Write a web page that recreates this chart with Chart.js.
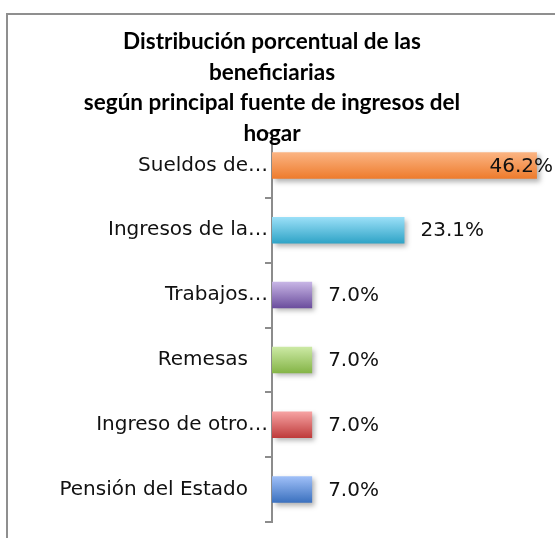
<!DOCTYPE html>
<html>
<head>
<meta charset="utf-8">
<script src="https://cdn.jsdelivr.net/npm/chart.js@4.4.1/dist/chart.umd.min.js"></script>
<style>
  html, body { margin: 0; padding: 0; background: #fff; overflow: hidden; }
  #frame { position: absolute; left: 6px; top: 13px; width: 620px; height: 620px; border: 2px solid #8f8f8f; }
  #wrap { position: absolute; left: 0; top: 0; width: 555px; height: 538px; }
</style>
</head>
<body>
<div id="frame"></div>
<div id="wrap"><canvas id="chart" width="555" height="538"></canvas></div>
<script>
// chart data
const titleLines = [
  "Distribución porcentual de las",
  "beneficiarias",
  "según principal fuente de ingresos del",
  "hogar"
];
const categories = ["Sueldos de…", "Ingresos de la…", "Trabajos…", "Remesas", "Ingreso de otro…", "Pensión del Estado"];
const values = [46.2, 23.1, 7.0, 7.0, 7.0, 7.0];

// bar gradient colours (top -> bottom)
const topColors = ["#fbb584", "#9ce0f8", "#c8b6e6", "#cdeaa6", "#f7a4a4", "#a0c0f8"];
const bottomColors = ["#ee7b2c", "#2ea3c6", "#6a4c9c", "#84b446", "#be3a3a", "#3a70be"];

const axisGray = "#8c8c8c";

// gradients + drop shadow for the bars
const barStyle = {
  id: "barStyle",
  beforeDatasetsDraw(chart) {
    const ctx = chart.ctx;
    chart.getDatasetMeta(0).data.forEach((el, i) => {
      const top = el.y - el.height / 2;
      const g = ctx.createLinearGradient(0, top, 0, top + el.height);
      g.addColorStop(0, topColors[i]);
      g.addColorStop(1, bottomColors[i]);
      el.options.backgroundColor = g;
    });
    ctx.save();
    ctx.shadowColor = "rgba(0,0,0,0.3)";
    ctx.shadowBlur = 5;
    ctx.shadowOffsetX = 3;
    ctx.shadowOffsetY = 3;
  },
  afterDatasetsDraw(chart) {
    chart.ctx.restore();
  }
};

// title lines and value labels
const textLayer = {
  id: "textLayer",
  afterDraw(chart) {
    const ctx = chart.ctx;
    ctx.save();
    ctx.fillStyle = "#000";
    ctx.font = "bold 22.5px Lato";
    ctx.textAlign = "center";
    ctx.textBaseline = "middle";
    titleLines.forEach((line, i) => {
      ctx.fillText(line, 272, 42 + i * 30.5);
    });

    ctx.font = "20px 'DejaVu Sans'";
    ctx.textAlign = "left";
    ctx.fillStyle = "#111";
    chart.getDatasetMeta(0).data.forEach((el, i) => {
      const txt = values[i].toFixed(1) + "%";
      const w = ctx.measureText(txt).width;
      let x = el.x + 16;
      if (x + w > 553) x = 553 - w;
      ctx.fillText(txt, x, el.y + 1);
    });
    ctx.restore();
  }
};

new Chart(document.getElementById("chart").getContext("2d"), {
  type: "bar",
  data: {
    labels: categories,
    datasets: [{
      data: values,
      backgroundColor: bottomColors,
      borderWidth: 0,
      barPercentage: 0.41,
      categoryPercentage: 1
    }]
  },
  options: {
    indexAxis: "y",
    responsive: false,
    animation: false,
    layout: { padding: { top: 133, bottom: 16, left: 0, right: 2 } },
    plugins: {
      legend: { display: false },
      title: { display: false },
      tooltip: { enabled: false }
    },
    scales: {
      x: {
        display: false,
        min: 0,
        max: 49
      },
      y: {
        grid: {
          drawOnChartArea: false,
          offset: true,
          tickLength: 7,
          color: axisGray,
          lineWidth: 2
        },
        border: { color: axisGray, width: 2 },
        ticks: {
          color: "#111",
          padding: -3,
          font: { family: "DejaVu Sans", size: 20 },
          callback: function (v, i) {
            const lab = categories[i];
            return lab.endsWith("…") ? lab : lab + "\u2002\u2002";
          }
        },
        afterFit: function (scale) {
          scale.width = 272;
        }
      }
    }
  },
  plugins: [barStyle, textLayer]
});
</script>
</body>
</html>
